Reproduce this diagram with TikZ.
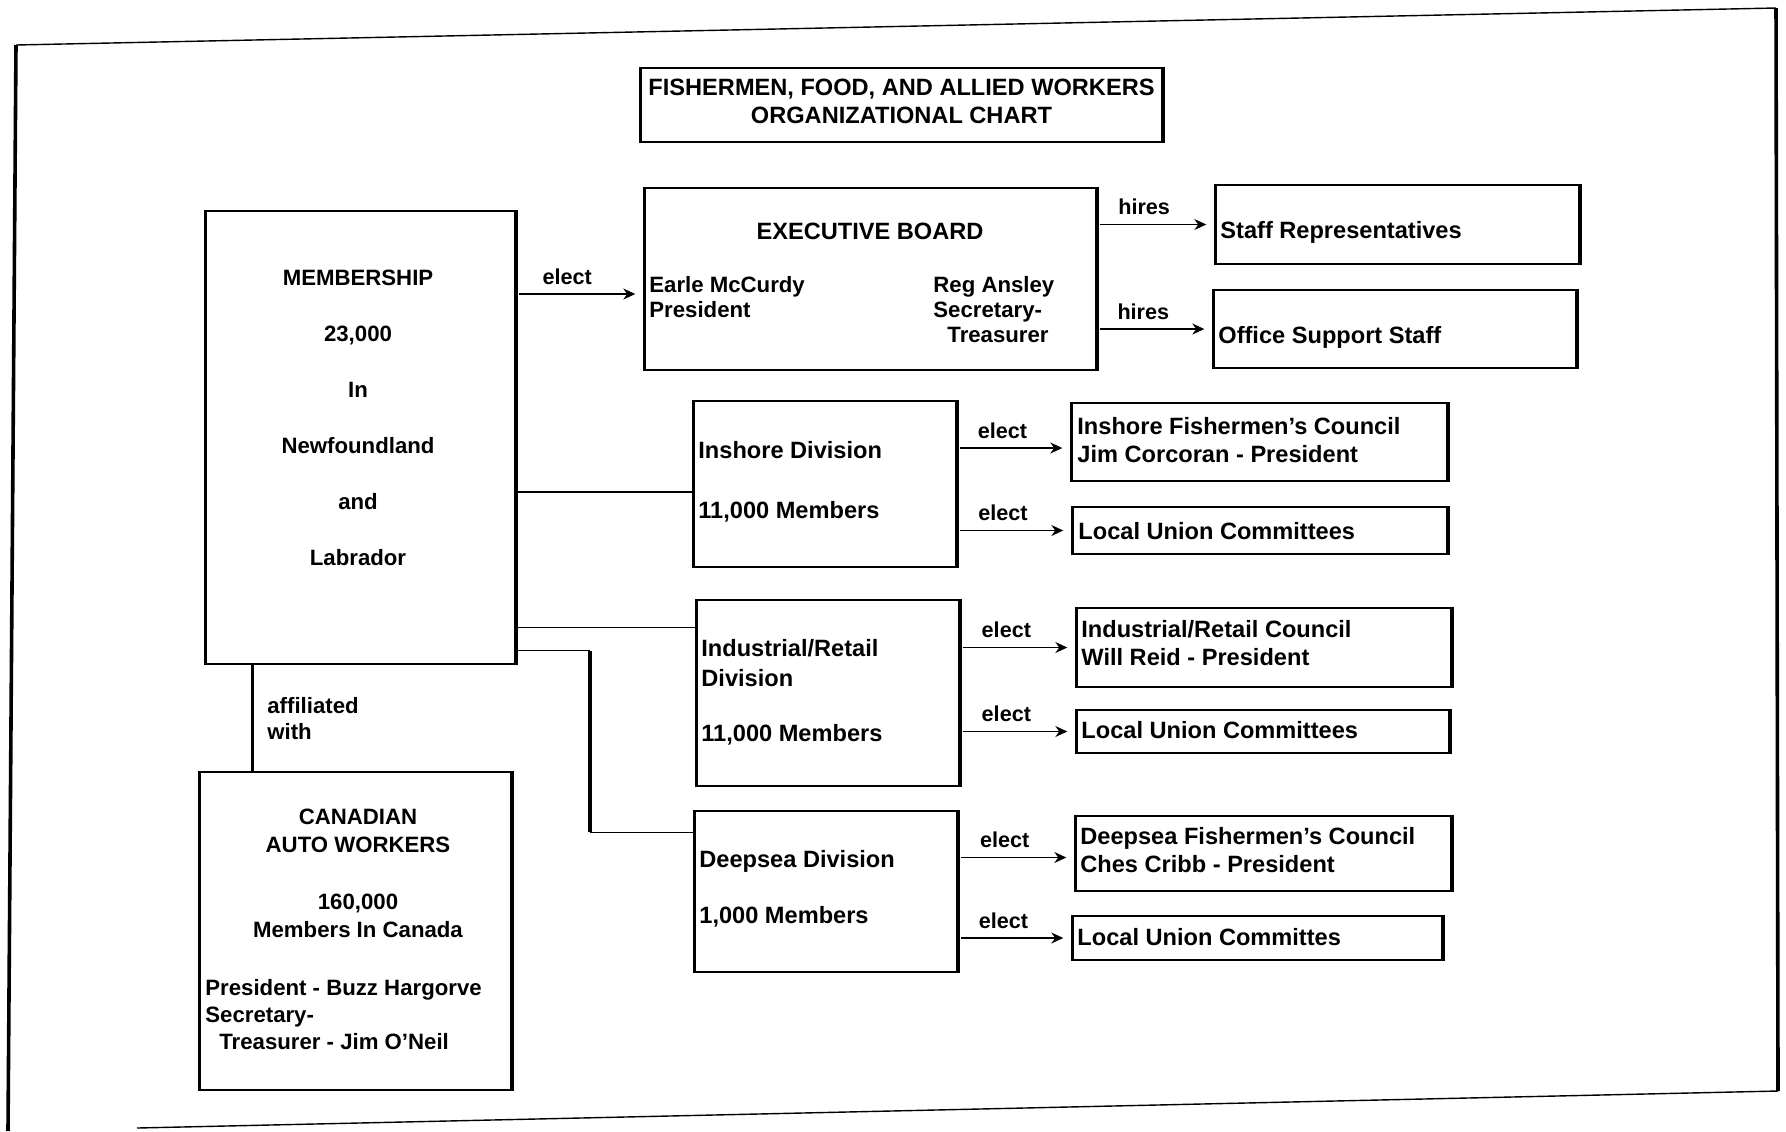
\documentclass[tikz,border=0pt]{standalone}
\usepackage{fontspec}
\setmainfont{Liberation Sans}
\usepackage{tikz}
\usetikzlibrary{arrows.meta,positioning,calc}
\newcommand{\orgfont}{\fontsize{11.8}{14}\selectfont\bfseries}
\newcommand{\smallorgfont}{\fontsize{11.1}{14}\selectfont\bfseries}
\newcommand{\linkfont}{\fontsize{10.8}{13}\selectfont\bfseries}

\begin{document}
\begin{tikzpicture}[x=0.5pt, y=-0.5pt,
    orgbox/.style={rectangle, draw, line width=0.7pt, inner sep=0pt},
    txt/.style={font=\orgfont, inner sep=0pt, align=left},
    link/.style={line width=0.7pt},
    vlink/.style={line width=1.8pt},
    elect/.style={link, -{Stealth[length=6pt,width=5.5pt]}, shorten <=1.5pt, shorten >=4.5pt},
    lbl/.style={font=\linkfont, inner sep=4.5pt},
  ]
    \useasboundingbox (0,0) rectangle (1786,1131);

    % page frame of the scan
    \draw[link] (16,45) -- (1776,8);
    \draw[link] (1778,1091) -- (137,1128);
    \draw[vlink] (8,1131) -- (16,45);
    \draw[vlink] (1776,8) -- (1778,1091);

    % boxes
    \node[orgbox, minimum width=260.5pt, minimum height=37pt] (title) at (901.5,105) {};
    \node[orgbox, minimum width=154.5pt, minimum height=226.5pt] (member) at (360.5,437.5) {};
    \node[orgbox, minimum width=225.5pt, minimum height=91pt] (exec) at (870.5,279) {};
    \node[orgbox, minimum width=181.5pt, minimum height=39.5pt] (staff) at (1397.5,224.5) {};
    \node[orgbox, minimum width=181pt, minimum height=39pt] (office) at (1395,329) {};
    \node[orgbox, minimum width=131pt, minimum height=83pt] (inshore) at (825,484) {};
    \node[orgbox, minimum width=187.5pt, minimum height=39pt] (icouncil) at (1259.5,442) {};
    \node[orgbox, minimum width=187pt, minimum height=23.5pt] (ilocal) at (1260,530.5) {};
    \node[orgbox, minimum width=131pt, minimum height=93pt] (indus) at (828,693) {};
    \node[orgbox, minimum width=187pt, minimum height=39.5pt] (rcouncil) at (1264,647.5) {};
    \node[orgbox, minimum width=186pt, minimum height=21.5pt] (rlocal) at (1263,731.5) {};
    \node[orgbox, minimum width=131pt, minimum height=80.5pt] (deep) at (826,891.5) {};
    \node[orgbox, minimum width=187.5pt, minimum height=37.5pt] (dcouncil) at (1263.5,853.5) {};
    \node[orgbox, minimum width=184.5pt, minimum height=22pt] (dlocal) at (1257.5,938) {};
    \node[orgbox, minimum width=155.5pt, minimum height=159pt] (caw) at (355.5,931) {};

    \foreach \b in {title,member,exec,staff,office,inshore,icouncil,ilocal,indus,rcouncil,rlocal,deep,dcouncil,dlocal,caw}
      \draw[vlink] (\b.north west) -- (\b.south west) (\b.north east) -- (\b.south east);

    % texts
    \node[txt, align=center] (titletxt) at (901.5,101) {FISHERMEN, FOOD, AND ALLIED WORKERS\\ORGANIZATIONAL CHART};
    \node[txt, align=center, font=\fontsize{11.1}{28}\selectfont\bfseries] (membertxt) at (358,418)
      {MEMBERSHIP\\23,000\\In\\Newfoundland\\and\\Labrador};
    \node[txt] (exectxt) at (870,231) {EXECUTIVE BOARD};
    \node[txt, font=\smallorgfont, anchor=west] (presenttxt) at (649,297.5) {Earle McCurdy\\[-1.5pt]President};
    \node[txt, font=\smallorgfont, anchor=west] (secrtxt) at (933,309.5) {Reg Ansley\\[-1.5pt]Secretary-\\[-1.5pt]\hspace*{7pt}Treasurer};
    \node[txt, anchor=west] (stafftxt) at (1220,232) {Staff Representatives};
    \node[txt, anchor=west] (officetxt) at (1218,337) {Office Support Staff};
    \node[txt, anchor=west] (inshoretxt) at (698,482) {Inshore Division\\[16pt]11,000 Members};
    \node[txt, anchor=west] (icounciltxt) at (1077,440) {Inshore Fishermen's Council\\Jim Corcoran - President};
    \node[txt, anchor=west] (ilocaltxt) at (1078,531) {Local Union Committees};
    \node[txt, anchor=west] (industxt) at (701,692) {Industrial/Retail\\[1pt]Division\\[13.5pt]11,000 Members};
    \node[txt, anchor=west] (rcounciltxt) at (1081,643) {Industrial/Retail Council\\Will Reid - President};
    \node[txt, anchor=west] (rlocaltxt) at (1081,730) {Local Union Committees};
    \node[txt, anchor=west] (deeptxt) at (699,889) {Deepsea Division\\[14pt]1,000 Members};
    \node[txt, anchor=west] (dcounciltxt) at (1080,850) {Deepsea Fishermen's Council\\Ches Cribb - President};
    \node[txt, anchor=west] (dlocaltxt) at (1077,937) {Local Union Committes};
    \node[txt, font=\smallorgfont, align=center] (cawtxt) at (358,831) {CANADIAN\\AUTO WORKERS};
    \node[txt, font=\smallorgfont, align=center] (cawcount) at (358,916) {160,000\\Members In Canada};
    \node[txt, font=\smallorgfont, anchor=west] (cawoffice) at (205,1015) {President - Buzz Hargorve\\[-0.5pt]Secretary-\\[-0.5pt]\hspace*{7pt}Treasurer - Jim O'Neil};

    % connectors
    \draw[elect] ([yshift=-7.5pt]exec.west -| member.east) -- node[lbl, pos=0.4, above] (electexec) {elect} ([yshift=-7.5pt]exec.west);
    \draw[elect] (exec.east |- staff.west) -- node[lbl, pos=0.4, above] (hirestaff) {hires} (staff.west);
    \draw[elect] (exec.east |- office.west) -- node[lbl, pos=0.4, above] (hireoffice) {hires} (office.west);

    \coordinate (itap) at ([yshift=-4pt]inshore.west);
    \coordinate (rtap) at ($(indus.north west)!0.15!(indus.south west)$);
    \coordinate (dtap) at ([yshift=-11pt]deep.north west);
    \coordinate (dstart) at ([yshift=7pt]member.south east);
    \coordinate (dtop) at ([xshift=37pt]dstart);
    \draw[link] (itap -| member.east) -- (itap);
    \draw[link] (rtap -| member.east) -- (rtap);
    \draw[link] (dstart) -- (dtop);
    \draw[vlink] (dtop) -- (dtop |- dtap);
    \draw[link] (dtop |- dtap) -- (dtap);

    \coordinate (cawtap) at ([xshift=23.5pt]member.south west);
    \draw[vlink] (cawtap) -- (cawtap |- caw.north);
    \node[font=\smallorgfont, inner sep=0pt, align=left, anchor=west] (affil) at (267,719) {affiliated\\[-1pt]with};

    \draw[elect] ([yshift=-3pt]icouncil.west -| inshore.east) -- node[lbl, pos=0.4, above] (e1) {elect} ([yshift=-3pt]icouncil.west);
    \draw[elect] (inshore.east |- ilocal.west) -- node[lbl, pos=0.4, above] (e2) {elect} (ilocal.west);
    \draw[elect] (indus.east |- rcouncil.west) -- node[lbl, pos=0.4, above] (e3) {elect} (rcouncil.west);
    \draw[elect] (indus.east |- rlocal.west) -- node[lbl, pos=0.4, above] (e4) {elect} (rlocal.west);
    \draw[elect] ([yshift=-2pt]dcouncil.west -| deep.east) -- node[lbl, pos=0.4, above] (e5) {elect} ([yshift=-2pt]dcouncil.west);
    \draw[elect] (deep.east |- dlocal.west) -- node[lbl, pos=0.4, above] (e6) {elect} (dlocal.west);
  \end{tikzpicture}
\end{document}
